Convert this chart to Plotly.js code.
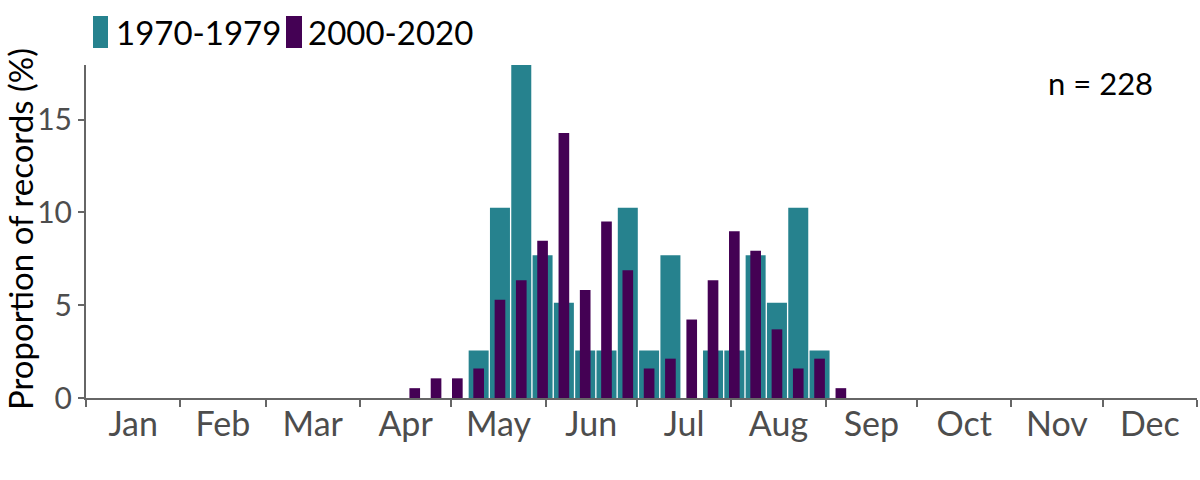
<!DOCTYPE html>
<html>
<head>
<meta charset="utf-8">
<script src="https://cdn.plot.ly/plotly-3.0.1.min.js"></script>
<style>
html, body { margin: 0; padding: 0; background: #ffffff; }
#chart { width: 1200px; height: 480px; }
</style>
</head>
<body>
<div id="chart"></div>
<script>
// ---- data ----
const weeks = [16, 17, 18, 19, 20, 21, 22, 23, 24, 25, 26, 27, 28, 29, 30, 31, 32, 33, 34, 35, 36];
const pct1970s = [0, 0, 0, 2.56, 10.26, 17.95, 7.69, 5.13, 2.56, 2.56, 10.26, 2.56, 7.69, 0, 2.56, 2.56, 7.69, 5.13, 10.26, 2.56, 0];
const pct2000s = [0.53, 1.06, 1.06, 1.59, 5.29, 6.35, 8.47, 14.29, 5.82, 9.52, 6.88, 1.59, 2.12, 4.23, 6.35, 8.99, 7.94, 3.70, 1.59, 2.12, 0.53];
const seriesNames = ['1970-1979', '2000-2020'];
const monthLabels = ['Jan', 'Feb', 'Mar', 'Apr', 'May', 'Jun', 'Jul', 'Aug', 'Sep', 'Oct', 'Nov', 'Dec'];
const yTickVals = [0, 5, 10, 15];
const sampleLabel = 'n = 228';
const yTitle = 'Proportion of records (%)';

// ---- styling ----
const TEAL = '#26828E';
const PURPLE = '#440154';
const AXIS = '#666666';
const TICKTXT = '#4d4d4d';
const FONT = 'Lato, "Open Sans", sans-serif';
const DAY = 86400000;
const YEAR = 2021;

function toDateStr(ms) {
  return new Date(ms).toISOString().slice(0, 19).replace('T', ' ');
}
// middle of each weekly bin as a date on the (non-leap) year axis
function weekMid(w) {
  return toDateStr(Date.UTC(YEAR, 0, 1) + (7 * w - 4) * DAY);
}
const xWeeks = weeks.map(weekMid);

const monthStarts = [];
for (let m = 0; m <= 12; m++) monthStarts.push(toDateStr(Date.UTC(YEAR, m, 1)));
const monthMids = [];
for (let m = 0; m < 12; m++) {
  monthMids.push(toDateStr((Date.UTC(YEAR, m, 1) + Date.UTC(YEAR, m + 1, 1)) / 2));
}

const traces = [
  {
    type: 'bar', name: seriesNames[0], x: xWeeks, y: pct1970s,
    width: 6.57 * DAY, marker: { color: TEAL }, hoverinfo: 'skip', showlegend: false
  },
  {
    type: 'bar', name: seriesNames[1], x: xWeeks, y: pct2000s,
    width: 3.5 * DAY, marker: { color: PURPLE }, hoverinfo: 'skip', showlegend: false
  }
];

const M = { l: 86, r: 3, t: 65, b: 82 };
const W = 1200, H = 480;
const PW = W - M.l - M.r, PH = H - M.t - M.b;
const px = (x) => (x - M.l) / PW;
const py = (y) => (H - M.b - y) / PH;

const layout = {
  width: W, height: H,
  margin: M,
  paper_bgcolor: '#ffffff', plot_bgcolor: '#ffffff',
  barmode: 'overlay',
  showlegend: false,
  font: { family: FONT, color: '#000000' },
  xaxis: {
    type: 'date',
    range: [monthStarts[0], monthStarts[12]],
    tickmode: 'array', tickvals: monthMids, ticktext: monthLabels,
    ticks: '', showgrid: false, zeroline: false,
    showline: true, linecolor: AXIS, linewidth: 2,
    ticklabelstandoff: -5,
    tickfont: { family: FONT, size: 34, color: TICKTXT },
    minor: { tickmode: 'array', tickvals: monthStarts, ticks: 'outside', ticklen: 7, tickwidth: 2, tickcolor: AXIS, showgrid: false },
    fixedrange: true
  },
  yaxis: {
    range: [0, 17.95],
    tickmode: 'array', tickvals: yTickVals,
    ticks: 'outside', ticklen: 6, tickwidth: 2, tickcolor: AXIS,
    showline: true, linecolor: AXIS, linewidth: 2,
    showgrid: false, zeroline: false,
    tickfont: { family: FONT, size: 30, color: TICKTXT },
    fixedrange: true
  },
  shapes: [
    { type: 'rect', xref: 'paper', yref: 'paper', x0: px(93), x1: px(108), y0: py(48), y1: py(16), fillcolor: TEAL, line: { width: 0 } },
    { type: 'rect', xref: 'paper', yref: 'paper', x0: px(286), x1: px(302), y0: py(48), y1: py(16), fillcolor: PURPLE, line: { width: 0 } }
  ],
  annotations: [
    { xref: 'paper', yref: 'paper', x: px(20), y: py(229), xanchor: 'center', yanchor: 'middle', textangle: -90, borderpad: 0, text: yTitle, showarrow: false, font: { family: FONT, size: 33, color: '#000000' } },
    { xref: 'paper', yref: 'paper', x: px(114), y: py(32), xanchor: 'left', yanchor: 'middle', text: seriesNames[0], showarrow: false, font: { family: FONT, size: 33, color: '#000000' } },
    { xref: 'paper', yref: 'paper', x: px(306), y: py(32), xanchor: 'left', yanchor: 'middle', text: seriesNames[1], showarrow: false, font: { family: FONT, size: 33, color: '#000000' } },
    { xref: 'paper', yref: 'paper', x: px(1100), y: py(83), xanchor: 'center', yanchor: 'middle', text: sampleLabel, showarrow: false, font: { family: FONT, size: 31, color: '#000000' } }
  ]
};

Plotly.newPlot('chart', traces, layout, { displayModeBar: false, staticPlot: true });
</script>
</body>
</html>
